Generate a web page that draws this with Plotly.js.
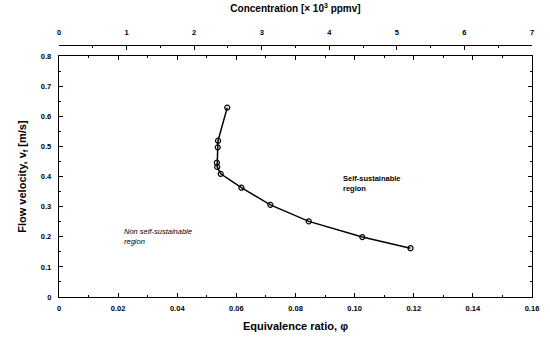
<!DOCTYPE html>
<html>
<head>
<meta charset="utf-8">
<script src="https://cdn.plot.ly/plotly-3.0.1.min.js"></script>
<style>html,body{margin:0;padding:0;background:#fff}#chart{width:550px;height:339px}</style>
</head>
<body>
<div id="chart"></div>
<script>
// Data
const phi = [0.0569, 0.0538, 0.0537, 0.0534, 0.0535, 0.0547, 0.0617, 0.0715, 0.0845, 0.1026, 0.1189];
const velocity = [0.629, 0.519, 0.497, 0.446, 0.432, 0.409, 0.363, 0.306, 0.251, 0.199, 0.162];

const xTickVals = [0, 0.02, 0.04, 0.06, 0.08, 0.10, 0.12, 0.14, 0.16];
const xTickText = ["0", "0.02", "0.04", "0.06", "0.08", "0.10", "0.12", "0.14", "0.16"];
const yTickVals = [0, 0.1, 0.2, 0.3, 0.4, 0.5, 0.6, 0.7, 0.8];
const yTickText = ["0", "0.1", "0.2", "0.3", "0.4", "0.5", "0.6", "0.7", "0.8"];
const topTickVals = [0, 1, 2, 3, 4, 5, 6, 7];
const topTickText = ["0", "1", "2", "3", "4", "5", "6", "7"];

const labels = ["Self-sustainable<br>region", "Non self-sustainable<br>region"];

const F = "Liberation Sans, Arial, sans-serif";

const traces = [
  {
    x: phi, y: velocity, type: "scatter", mode: "lines+markers",
    line: {color: "#000", width: 1.5},
    marker: {symbol: "circle-open", size: 5, color: "#000", line: {width: 1.2, color: "#000"}},
    hoverinfo: "none", showlegend: false
  },
  {
    x: [0, 7], y: [0, 0], xaxis: "x2", yaxis: "y", type: "scatter", mode: "markers",
    marker: {opacity: 0}, hoverinfo: "none", showlegend: false
  }
];

const layout = {
  width: 550, height: 339,
  margin: {l: 59, r: 18, t: 45, b: 42},
  paper_bgcolor: "#fff", plot_bgcolor: "#fff",
  font: {family: F, color: "#000", size: 7},
  showlegend: false,
  xaxis: {
    range: [0, 0.16], tickvals: xTickVals, ticktext: xTickText,
    showgrid: false, zeroline: false, showline: true, linecolor: "#000", linewidth: 1.2,
    mirror: "ticks", ticks: "inside", ticklen: 4, tickwidth: 1, tickcolor: "#000",
    minor: {dtick: 0.01, ticks: "inside", ticklen: 2, tickwidth: 1, tickcolor: "#000", showgrid: false},
    ticklabelstandoff: 4,
    tickfont: {family: F, size: 7.5, color: "#000", weight: "bold"},
    title: {text: "<b>Equivalence ratio, φ</b>", font: {family: F, size: 11, color: "#000"}, standoff: 10}
  },
  xaxis2: {
    range: [0, 7], overlaying: "x", side: "top", anchor: "free", position: 1,
    tickvals: topTickVals, ticktext: topTickText,
    showgrid: false, zeroline: false, showline: true, linecolor: "#000", linewidth: 1.2,
    ticks: "inside", ticklen: 4, tickwidth: 1, tickcolor: "#000",
    minor: {dtick: 0.5, ticks: "inside", ticklen: 2, tickwidth: 1, tickcolor: "#000", showgrid: false},
    ticklabelstandoff: 7,
    tickfont: {family: F, size: 7.5, color: "#000", weight: "bold"},
    title: {text: "<b>Concentration [× 10<sup>3</sup> ppmv]</b>", font: {family: F, size: 10, color: "#000"}, standoff: 12}
  },
  yaxis: {
    range: [0, 0.8], domain: [0, 0.956], tickvals: yTickVals, ticktext: yTickText,
    showgrid: false, zeroline: false, showline: true, linecolor: "#000", linewidth: 1.2,
    mirror: "ticks", ticks: "inside", ticklen: 4, tickwidth: 1, tickcolor: "#000",
    minor: {dtick: 0.05, ticks: "inside", ticklen: 2, tickwidth: 1, tickcolor: "#000", showgrid: false},
    ticklabelstandoff: 5,
    tickfont: {family: F, size: 7.5, color: "#000", weight: "bold"},
    title: {text: "<b>Flow velocity, v<sub>f</sub> [m/s]</b>", font: {family: F, size: 11, color: "#000"}, standoff: 12}
  },
  annotations: [
    {x: 0.0955, y: 0.415, xref: "x", yref: "y", text: "<b>" + labels[0] + "</b>", showarrow: false,
     xanchor: "left", yanchor: "top", align: "left",
     font: {family: F, size: 7.5, color: "#000"}},
    {x: 0.0213, y: 0.24, xref: "x", yref: "y", text: "<i>" + labels[1] + "</i>", showarrow: false,
     xanchor: "left", yanchor: "top", align: "left",
     font: {family: F, size: 7.5, color: "#000"}}
  ]
};

Plotly.newPlot("chart", traces, layout, {displayModeBar: false, staticPlot: true});
</script>
</body>
</html>
